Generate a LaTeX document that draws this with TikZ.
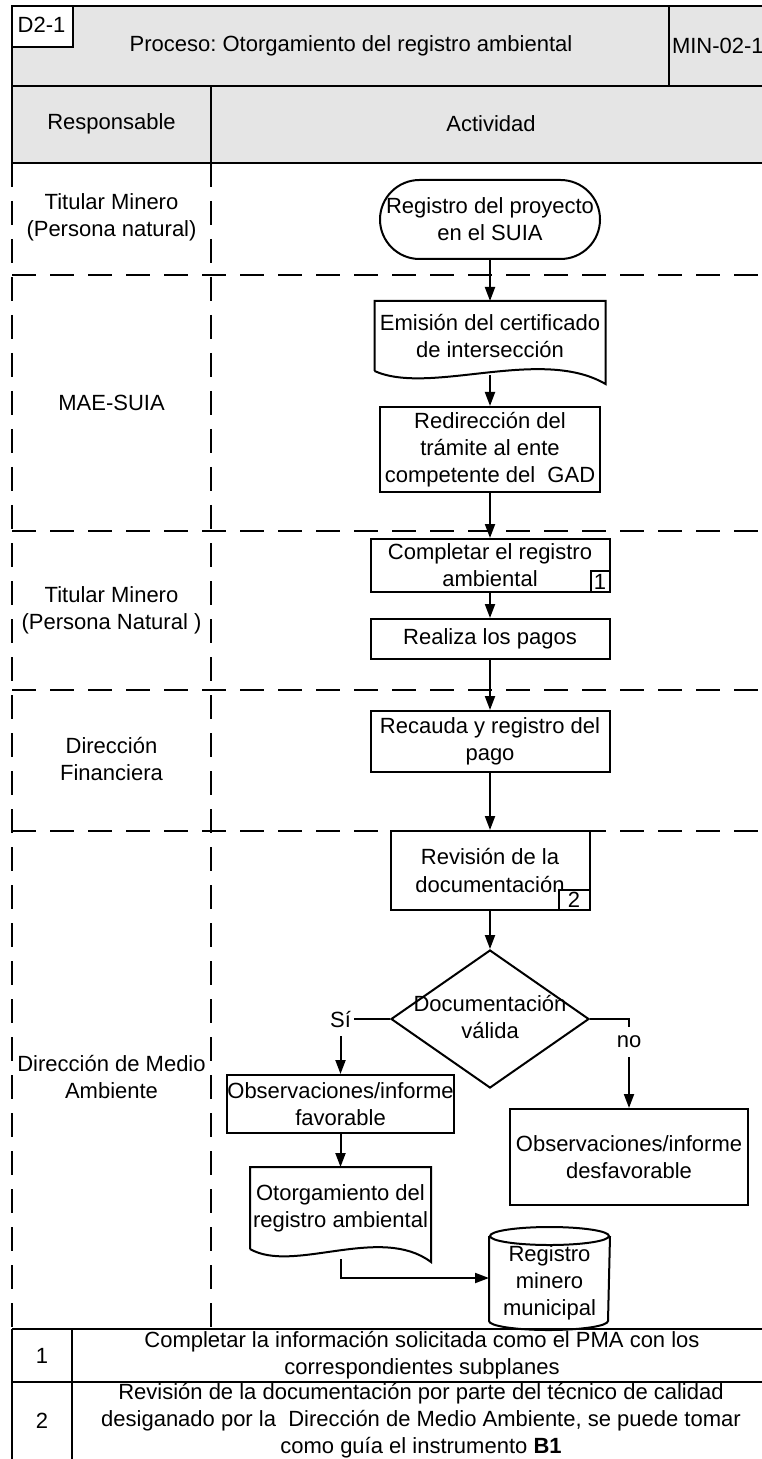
\documentclass[tikz,border=0pt]{standalone}
\usepackage{fontspec}
\setmainfont{Liberation Sans}
\usetikzlibrary{arrows.meta,shapes.geometric,calc}
\frenchspacing

\definecolor{grisfondo}{RGB}{229,229,229}

\newcommand{\documento}[1]{%
  \draw (#1.south west) -- (#1.north west) -- (#1.north east) -- ([yshift=-6.5pt]#1.south east)
    .. controls ($(#1.south west)!0.72!(#1.south east)+(0,-25)$) and ($(#1.south west)!0.24!(#1.south east)+(0,25)$) .. (#1.south west);}

\begin{document}
\begin{tikzpicture}[x=0.5pt,y=-0.5pt,line width=1pt,
    font=\fontsize{11}{13.5}\selectfont,
    caja/.style={draw,align=center,inner sep=0pt,fill=white},
    texto/.style={align=center,inner sep=0pt},
    flecha/.style={-{Triangle[width=5pt,length=7pt]}},
    carril/.style={dash pattern=on 12pt off 7pt,line width=1.1pt},
    rotulo/.style={fill=white,inner xsep=1.5pt,inner ysep=4.5pt}]
  \useasboundingbox (0,0) rectangle (761,1459);

  % cabecera
  \fill[grisfondo] (12,6) rectangle (772,163);
  \draw (12,6) rectangle (772,86);
  \draw (12,86) rectangle (772,163);
  \draw (669,6) -- (669,86);
  \draw (211,86) -- (211,163);
  \node[caja,minimum width=30.5pt,minimum height=20.5pt] (codigo) at (42.5,26.5) {};
  \node[texto] (codtxt) at (41.5,25) {D2-1};
  \node[texto] (titulo) at (351,46) {Proceso: Otorgamiento del registro ambiental};
  \node[texto,anchor=west] (clave) at (671,46) {MIN-02-1};
  \node[texto] (hresp) at (111.5,124) {Responsable};
  \node[texto] (hact) at (491,124) {Actividad};

  % carriles
  \draw[carril] (12,163) -- (12,1329);
  \draw[carril] (211,163) -- (211,1329);
  \foreach \y in {275,531,690,831}
    \draw[carril] (12,\y) -- (772,\y);

  \node[texto] (resp1) at (111.5,217.5) {Titular Minero\\(Persona natural)};
  \node[texto] (resp2) at (111.5,403) {MAE-SUIA};
  \node[texto] (resp3) at (111.5,610) {Titular Minero\\(Persona Natural )};
  \node[texto] (resp4) at (111.5,759) {Dirección\\Financiera};
  \node[texto] (resp5) at (111.5,1077) {Dirección de Medio\\Ambiente};

  % actividades
  \node[caja,rounded corners=19.75pt,minimum width=110pt,minimum height=39.5pt] (inicio) at (490,219.5) {Registro del proyecto\\en el SUIA};
  \node[texto,minimum width=114.5pt,minimum height=34pt] (emision) at (490,336) {Emisión del certificado\\de intersección};
  \documento{emision}
  \node[caja,minimum width=110pt,minimum height=42.5pt] (redir) at (490,449.5) {Redirección del\\trámite al ente\\competente del\ \ GAD};
  \node[caja,minimum width=119.5pt,minimum height=26.5pt] (completar) at (490,565.5) {Completar el registro\\ambiental};
  \node[caja,anchor=south east,minimum width=9.5pt,minimum height=10.5pt] (nota1) at (completar.south east) {1};
  \node[caja,minimum width=119.5pt,minimum height=20pt] (pagos) at (490,639) {Realiza los pagos};
  \node[caja,minimum width=119.5pt,minimum height=30.5pt] (recauda) at (490,741.5) {Recauda y registro del\\pago};
  \node[caja,minimum width=99.5pt,minimum height=39.5pt] (revision) at (490,870.5) {Revisión de la\\documentación};
  \node[caja,anchor=south east,minimum width=15.5pt,minimum height=10pt] (nota2) at (revision.south east) {2};
  \node[diamond,draw,fill=white,inner sep=0pt,minimum width=99pt,minimum height=69pt] (decision) at (490,1019) {};
  \node[texto] (dectxt) at (490,1017) {Documentación\\válida};
  \node[caja,minimum width=109.5pt,minimum height=29pt] (favorable) at (340.5,1104) {Observaciones/informe\\favorable};
  \node[caja,minimum width=119pt,minimum height=48pt] (desfav) at (629,1157) {Observaciones/informe\\desfavorable};
  \node[texto,minimum width=89.5pt,minimum height=40pt] (otorga) at (340.5,1208) {Otorgamiento del\\registro ambiental};
  \documento{otorga}
  \node[texto,minimum width=59.5pt,minimum height=46pt] (registro) at (549.5,1283) {Registro\\minero\\municipal};
  \draw (registro.north west) -- ($(registro.south west)+(0,-9)$)
    arc[start angle=180,end angle=0,x radius=59.5,y radius=9] -- (registro.north east);
  \draw (registro.north) ellipse[x radius=59.5,y radius=9];

  \draw[flecha] (inicio.south) -- (emision.north);
  \draw[flecha] ([yshift=-2pt]emision.south) -- (redir.north);
  \draw[flecha] (redir.south) -- (completar.north);
  \draw[flecha] (completar.south) -- (pagos.north);
  \draw[flecha] (pagos.south) -- (recauda.north);
  \draw[flecha] (recauda.south) -- (revision.north);
  \draw[flecha] (revision.south) -- (decision.north);
  \draw[flecha] (decision.west) -| node[rotulo,pos=0.5] (lblsi) {Sí} (favorable.north);
  \draw[flecha] (decision.east) -| node[rotulo,pos=0.63] (lblno) {no} (desfav.north);
  \draw[flecha] (favorable.south) -- (otorga.north);
  \draw[flecha] ([yshift=-5pt]otorga.south) |- ([yshift=2.5pt]registro.west);

  % notas
  \draw (12,1329) -- (772,1329);
  \draw (12,1382) -- (772,1382);
  \draw (12,1329) -- (12,1470);
  \draw (72,1329) -- (72,1470);
  \node[texto] (num1) at (42,1355.5) {1};
  \node[texto] (txt1) at (422,1355.5) {Completar la información solicitada como el PMA con los\\correspondientes subplanes};
  \node[texto] (num2) at (42,1420.5) {2};
  \node[texto] (txt2) at (421,1420.5) {Revisión de la documentación por parte del técnico de calidad\\desiganado por la\ \ Dirección de Medio Ambiente, se puede tomar\\como guía el instrumento \textbf{B1}};
\end{tikzpicture}
\end{document}
